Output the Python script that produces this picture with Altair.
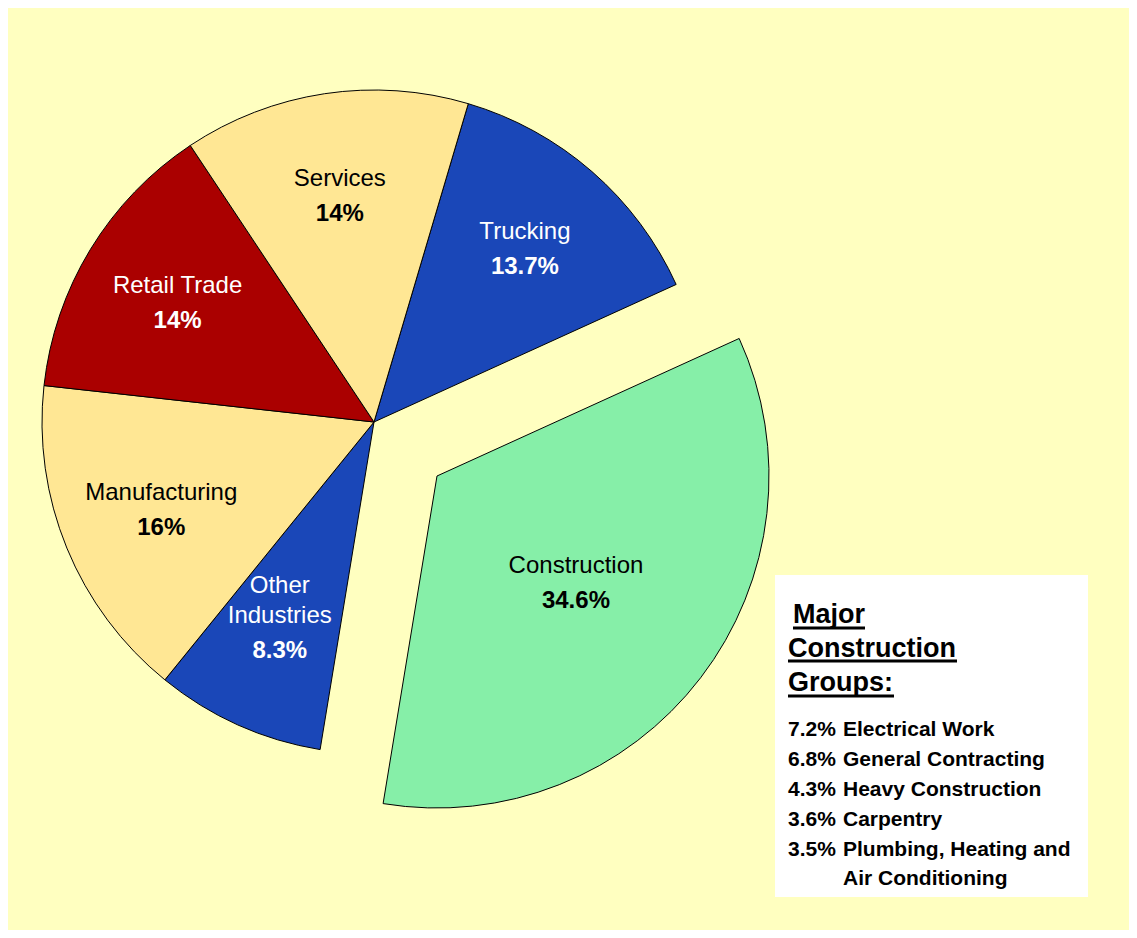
import altair as alt
import pandas as pd

# ---- data ----
categories = ["Trucking", "Construction", "Other Industries", "Manufacturing", "Retail Trade", "Services"]
shares = [13.7, 34.6, 8.3, 16.0, 14.0, 14.0]
pct_labels = ["13.7%", "34.6%", "8.3%", "16%", "14%", "14%"]
name_labels = ["Trucking", "Construction", "Other\nIndustries", "Manufacturing", "Retail Trade", "Services"]

slice_colors = ["#1A47B8", "#86EFA8", "#1A47B8", "#FFE794", "#AA0000", "#FFE794"]
label_colors = ["#FFFFFF", "#000000", "#FFFFFF", "#000000", "#FFFFFF", "#000000"]

heading_lines = ["Major", "Construction", "Groups:"]
group_pcts = ["7.2%", "6.8%", "4.3%", "3.6%", "3.5%"]
group_names = ["Electrical Work", "General Contracting", "Heavy Construction",
               "Carpentry", "Plumbing, Heating and\nAir Conditioning"]

# ---- layout constants ----
W, H = 1121, 922
CX, CY = 366, 414          # pie centre
EX, EY = 429, 468          # exploded slice centre
R = 332
START = 16.5 * 3.141592653589793 / 180
FONT = "Liberation Sans"

df = pd.DataFrame({
    "category": categories,
    "share": shares,
    "pct": pct_labels,
    "name": name_labels,
    "order": list(range(len(categories))),
})

base = (
    alt.Chart(df)
    .transform_window(cum="sum(share)", sort=[alt.SortField("order")], frame=[None, 0])
    .transform_joinaggregate(total="sum(share)")
    .transform_calculate(
        t0=f"{START} + 2*PI*(datum.cum - datum.share)/datum.total",
        t1=f"{START} + 2*PI*datum.cum/datum.total",
        ex="datum.category == 'Construction'",
    )
    .transform_calculate(
        tm="(datum.t0 + datum.t1)/2",
        ccx=f"datum.ex ? {EX} : {CX}",
        ccy=f"datum.ex ? {EY} : {CY}",
        lr="datum.ex ? 175 : 230",
        nl="length(split(datum.name, '\\n'))",
    )
    .transform_calculate(
        lx="datum.ccx + datum.lr*sin(datum.tm)",
        ly="datum.ccy - datum.lr*cos(datum.tm)",
    )
    .transform_calculate(
        ny="datum.ly - 9 - (datum.nl - 1)*30",
        py="datum.ly + 26",
    )
)

fill_enc = alt.Color("category:N", scale=alt.Scale(domain=categories, range=slice_colors), legend=None)
text_col = alt.Color("category:N", scale=alt.Scale(domain=categories, range=label_colors), legend=None)
theta_a = alt.Theta("t0:Q", scale=None, stack=None)


def arcs(filt, cx, cy):
    return base.transform_filter(filt).mark_arc(
        outerRadius=R, stroke="#000000", strokeWidth=1
    ).encode(theta=theta_a, theta2="t1:Q", color=fill_enc, x=alt.value(cx), y=alt.value(cy))


pie = arcs("datum.category != 'Construction'", CX, CY)
pie_ex = arcs("datum.category == 'Construction'", EX, EY)

names = base.mark_text(
    font=FONT, fontSize=24, baseline="alphabetic", align="center", lineBreak="\n", lineHeight=30
).encode(text="name:N", x=alt.X("lx:Q", scale=None), y=alt.Y("ny:Q", scale=None), color=text_col)
pcts = base.mark_text(
    font=FONT, fontSize=24, fontWeight="bold", baseline="alphabetic", align="center"
).encode(text="pct:N", x=alt.X("lx:Q", scale=None), y=alt.Y("py:Q", scale=None), color=text_col)

one = pd.DataFrame({"a": [0]})
box = alt.Chart(one).mark_rect(fill="#FFFFFF").encode(
    x=alt.value(767), x2=alt.value(1080), y=alt.value(567), y2=alt.value(889)
)

head_df = pd.DataFrame({"line": heading_lines, "i": list(range(len(heading_lines)))})
heading = alt.Chart(head_df).transform_calculate(
    yy="615 + datum.i*34", xx="datum.i == 0 ? 785 : 780"
).mark_text(font=FONT, fontSize=27, fontWeight="bold", align="left", baseline="alphabetic").encode(
    text="line:N", x=alt.X("xx:Q", scale=None), y=alt.Y("yy:Q", scale=None), color=alt.value("#000000")
)

ul1 = alt.Chart(one).mark_rule(stroke="#000000", strokeWidth=3).encode(
    x=alt.value(785), x2=alt.value(857), y=alt.value(620))
ul2 = alt.Chart(one).mark_rule(stroke="#000000", strokeWidth=3).encode(
    x=alt.value(780), x2=alt.value(949), y=alt.value(653))
ul3 = alt.Chart(one).mark_rule(stroke="#000000", strokeWidth=3).encode(
    x=alt.value(780), x2=alt.value(886), y=alt.value(688))

grp_df = pd.DataFrame({"pct": group_pcts, "name": group_names, "i": list(range(len(group_pcts)))})
grp_base = alt.Chart(grp_df).transform_calculate(yy="728 + datum.i*30")
grp_pct = grp_base.mark_text(font=FONT, fontSize=21, fontWeight="bold", align="left", baseline="alphabetic").encode(
    text="pct:N", x=alt.value(780), y=alt.Y("yy:Q", scale=None), color=alt.value("#000000"))
grp_name = grp_base.mark_text(font=FONT, fontSize=21, fontWeight="bold", align="left", baseline="alphabetic",
                              lineBreak="\n", lineHeight=29).encode(
    text="name:N", x=alt.value(835), y=alt.Y("yy:Q", scale=None), color=alt.value("#000000"))

chart = alt.layer(
    pie, pie_ex, names, pcts, box, heading, ul1, ul2, ul3, grp_pct, grp_name
).resolve_scale(color="independent").properties(
    width=W, height=H, padding=0, autosize=alt.AutoSizeParams(type="none")
).configure(background="#FFFFC0").configure_view(stroke=None)

chart.save("out.html", embed_options={"renderer": "svg", "actions": False})
